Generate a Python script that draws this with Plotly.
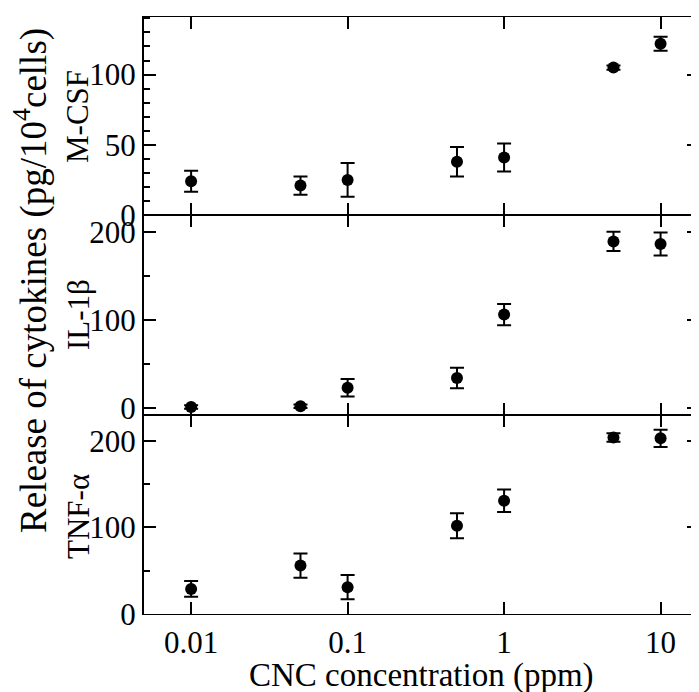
import math
import plotly.graph_objects as go
from plotly.subplots import make_subplots

conc = [0.01, 0.05, 0.1, 0.5, 1, 5, 10]

mcsf = [24, 21, 25, 38, 41, 105, 122]
mcsf_err = [7.5, 6.5, 12, 10.5, 10, 1.5, 5]

il1b = [1, 2, 23, 34, 106, 189, 186]
il1b_err = [2, 2, 10, 11.5, 12, 11, 13]

tnfa = [29, 56, 31, 102, 131, 204, 203]
tnfa_err = [9, 14, 14, 14.5, 13, 5, 10]

panel_names = ["M-CSF", "IL-1β", "TNF-α"]
x_tick_vals = [0.01, 0.1, 1, 10]
x_tick_text = ["0.01", "0.1", "1", "10"]

FONT = "Liberation Serif"
# the page body has an 8px default margin: compensate so the picture lands
# where the reference has it
OFF = 8
W, H = 699 - OFF, 692 - OFF
L, R, T, B = 144 - OFF, 0, 17 - OFF, 78

fig = make_subplots(rows=3, cols=1, shared_xaxes=True, vertical_spacing=0)

series = [(mcsf, mcsf_err), (il1b, il1b_err), (tnfa, tnfa_err)]
for i, (vals, errs) in enumerate(series, start=1):
    fig.add_trace(go.Scatter(
        x=conc, y=vals, mode="markers",
        marker=dict(color="black", size=12, symbol="circle"),
        error_y=dict(type="data", array=errs, visible=True, color="black",
                     thickness=2, width=7),
        showlegend=False, cliponaxis=False), row=i, col=1)

xr = [math.log10(0.005), math.log10(17.6)]
for i in range(1, 4):
    fig.update_xaxes(row=i, col=1, type="log", range=xr,
                     tickvals=x_tick_vals, ticktext=x_tick_text,
                     ticks="inside", ticklen=12, tickwidth=2, tickcolor="black",
                     showline=True, linewidth=1.2, linecolor="black", mirror="ticks",
                     showgrid=False, zeroline=False, automargin=False,
                     showticklabels=(i == 3), ticklabelstandoff=1,
                     tickfont=dict(family=FONT, size=31, color="black"))

minor_style = dict(ticklen=6, tickwidth=2, ticks="inside", tickcolor="black")
yspecs = [
    dict(range=[0, 141], tickvals=[0, 50, 100], minor=dict(dtick=10, **minor_style)),
    dict(range=[-8, 219], tickvals=[0, 100, 200], minor=dict(dtick=50, **minor_style)),
    dict(range=[0, 230], tickvals=[0, 100, 200], minor=dict(dtick=50, **minor_style)),
]
for i, spec in enumerate(yspecs, start=1):
    fig.update_yaxes(row=i, col=1, ticks="inside", ticklen=12, tickwidth=2,
                     tickcolor="black", showline=True, linewidth=2,
                     linecolor="black", mirror="ticks", showgrid=False,
                     zeroline=False, ticklabelstandoff=0, automargin=False,
                     tickfont=dict(family=FONT, size=31, color="black"), **spec)

# panel edges in window pixels (reference)
top_edges = [17, 215, 415, 614]
plot_top, plot_bot = top_edges[0], top_edges[-1]
H_plot = plot_bot - plot_top

def py_to_paper(py):
    return (plot_bot - py) / H_plot

def px_to_paper(px):
    return (px - 144) / (699 - 144)

doms = [(py_to_paper(top_edges[i + 1]), py_to_paper(top_edges[i])) for i in range(3)]
fig.update_layout(yaxis=dict(domain=[doms[0][0], 1]),
                  yaxis2=dict(domain=[doms[1][0], doms[1][1]]),
                  yaxis3=dict(domain=[0, doms[2][1]]))

label_centers = [117, 315, 517]
for name, cy in zip(panel_names, label_centers):
    fig.add_annotation(text=name, xref="paper", yref="paper",
                       x=px_to_paper(78), y=py_to_paper(cy),
                       xanchor="center", yanchor="middle", textangle=-90,
                       showarrow=False,
                       font=dict(family=FONT, size=31, color="black"))

fig.add_annotation(text="Release of cytokines (pg/10<sup>4</sup>cells)",
                   xref="paper", yref="paper",
                   x=px_to_paper(31), y=py_to_paper(281),
                   xanchor="center", yanchor="middle", textangle=-90,
                   showarrow=False,
                   font=dict(family=FONT, size=37, color="black"))

fig.add_annotation(text="CNC concentration (ppm)", xref="paper", yref="paper",
                   x=0.5, y=py_to_paper(675), xanchor="center",
                   yanchor="middle", showarrow=False,
                   font=dict(family=FONT, size=33, color="black"))

fig.update_layout(width=W, height=H, margin=dict(l=L, r=R, t=T, b=B),
                  plot_bgcolor="white", paper_bgcolor="white")

fig.write_html("out.html")
